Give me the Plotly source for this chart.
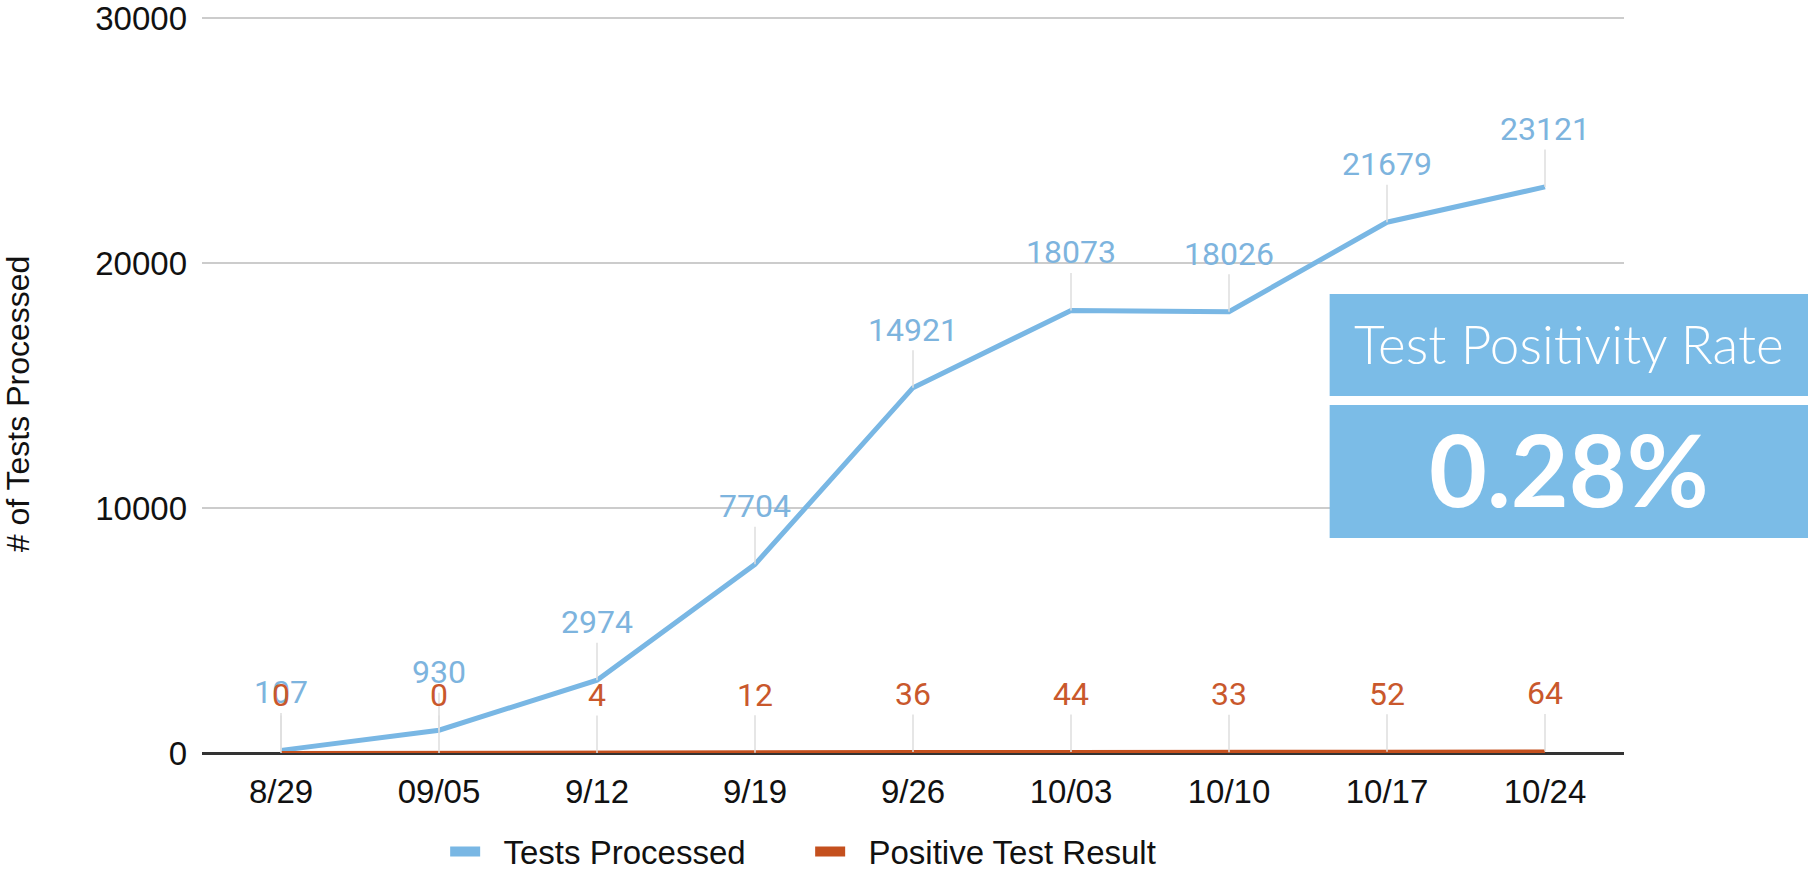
import plotly.graph_objects as go

categories = ["8/29", "09/05", "9/12", "9/19", "9/26", "10/03", "10/10", "10/17", "10/24"]
tests_processed = [107, 930, 2974, 7704, 14921, 18073, 18026, 21679, 23121]
positive_results = [0, 0, 4, 12, 36, 44, 33, 52, 64]
y_ticks = [0, 10000, 20000, 30000]
positivity_title = "Test Positivity Rate"
positivity_value = "0.28%"

BLUE = "#79b7e4"
BLUE_TXT = "#7db4de"
ORANGE = "#c4501e"
ORANGE_TXT = "#c9582c"
BOX = "#7bbce7"
TXT = "#111111"
NB = "\u00a0\u00a0"

fig = go.Figure()
fig.add_trace(go.Scatter(x=categories, y=tests_processed, mode="lines",
                         line=dict(color=BLUE, width=5), showlegend=False,
                         name="Tests Processed"))
fig.add_trace(go.Scatter(x=categories, y=positive_results, mode="lines",
                         line=dict(color=ORANGE, width=4), showlegend=False,
                         name="Positive Test Result"))
# legend-only entries with thicker symbols
fig.add_trace(go.Scatter(x=[None], y=[None], mode="lines",
                         line=dict(color=BLUE, width=10), name=NB + "Tests Processed"))
fig.add_trace(go.Scatter(x=[None], y=[None], mode="lines",
                         line=dict(color=ORANGE, width=10), name=NB + "Positive Test Result"))

annotations = []
for series, col in ((tests_processed, BLUE_TXT), (positive_results, ORANGE_TXT)):
    for c, v in zip(categories, series):
        annotations.append(dict(
            x=c, y=v, xref="x", yref="y", text=str(v), showarrow=True,
            arrowhead=0, arrowwidth=1.5, arrowcolor="#dedede", ax=0, ay=-58,
            font=dict(family="Roboto", size=32, color=col)))

annotations.append(dict(
    x=-0.1294, y=0.474, xref="paper", yref="paper", text="# of Tests Processed",
    showarrow=False, textangle=-90, xanchor="center", yanchor="middle",
    font=dict(family="Liberation Sans, Arial", size=32, color=TXT)))
annotations.append(dict(
    x=0.9613, y=0.556, xref="paper", yref="paper", text=positivity_title,
    showarrow=False, xanchor="center", yanchor="middle",
    font=dict(family="Lato", size=53, weight=300, color="white")))
annotations.append(dict(
    x=0.9613, y=0.387, xref="paper", yref="paper", text="<b>" + positivity_value + "</b>",
    showarrow=False, xanchor="center", yanchor="middle",
    font=dict(family="Lato", size=100, color="white")))

shapes = [
    dict(type="rect", xref="paper", yref="paper", x0=0.793, x1=1.14, y0=0.4851, y1=0.6236,
         fillcolor=BOX, line=dict(width=0), layer="above"),
    dict(type="rect", xref="paper", yref="paper", x0=0.793, x1=1.14, y0=0.2921, y1=0.4728,
         fillcolor=BOX, line=dict(width=0), layer="above"),
]

fig.update_layout(
    width=1808, height=870,
    margin=dict(l=202, r=184, t=17, b=117, autoexpand=False),
    paper_bgcolor="white", plot_bgcolor="white",
    font=dict(family="Liberation Sans, Arial", size=33, color=TXT),
    xaxis=dict(type="category", range=[-0.5, 8.5], showgrid=False, ticks="",
               showline=False, ticklabelstandoff=16, automargin=False,
               tickfont=dict(size=33, color=TXT)),
    yaxis=dict(range=[0, 30060], tickvals=y_ticks, ticktext=[str(t) for t in y_ticks],
               showgrid=True, gridcolor="#cccccc", gridwidth=2,
               zeroline=True, zerolinecolor="#333333", zerolinewidth=3,
               ticks="", ticklabelstandoff=14, automargin=False,
               tickfont=dict(size=33, color=TXT)),
    legend=dict(orientation="h", x=0.171, y=-0.134, xanchor="left", yanchor="middle",
                font=dict(size=33, color=TXT), itemwidth=30,
                entrywidth=320, entrywidthmode="pixels"),
    annotations=annotations,
    shapes=shapes,
)

fig.write_html("out.html", config={"displayModeBar": False},
               post_script="document.body.style.margin='0px';")
